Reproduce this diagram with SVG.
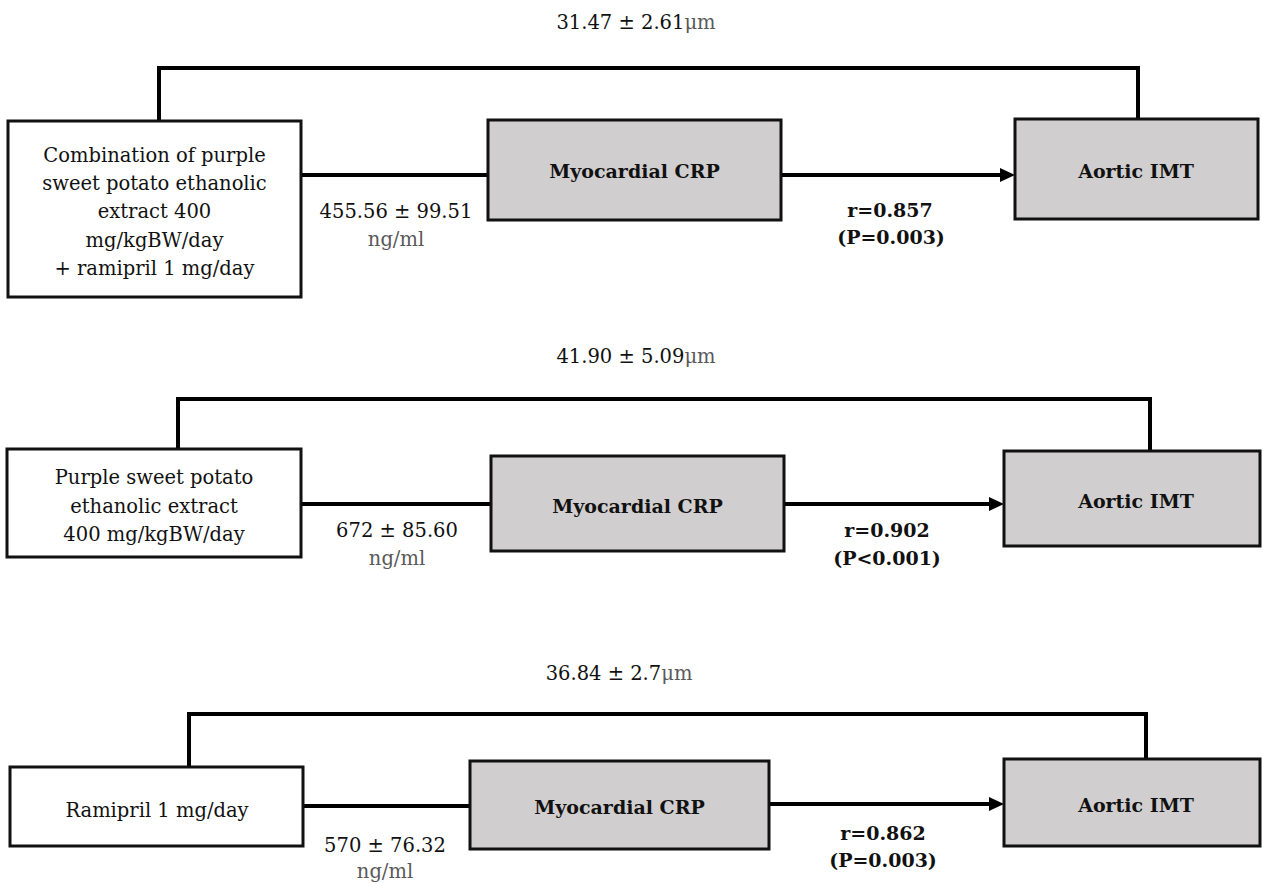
<svg xmlns="http://www.w3.org/2000/svg" width="1262" height="883" viewBox="0 0 1262 883">
<style>
  .box { fill: #ffffff; stroke: #111111; stroke-width: 3; }
  .gbox { fill: #d0cece; stroke: #111111; stroke-width: 3; }
  .conn { fill: none; stroke: #000000; stroke-width: 4; }
  text { font-family: "DejaVu Serif", "Liberation Serif", serif; font-size: 19.5px; fill: #111111; text-anchor: middle; }
  .b { font-weight: bold; font-size: 19px; }
  .g { fill: #595959; }
</style>
<defs>
  <marker id="arrow" markerUnits="userSpaceOnUse" markerWidth="16" markerHeight="16" refX="0" refY="7" orient="auto">
    <path d="M0,0 L15,7 L0,14 Z" fill="#000000"/>
  </marker>
</defs>

<g id="connectors">
  <!-- top block -->
  <polyline class="conn" points="159,121 159,68 1138,68 1138,119"/>
  <line class="conn" x1="301" y1="175" x2="488" y2="175"/>
  <line class="conn" x1="781" y1="175" x2="1000" y2="175" marker-end="url(#arrow)"/>
  <!-- middle block -->
  <polyline class="conn" points="178,449 178,399 1150,399 1150,451"/>
  <line class="conn" x1="301" y1="504" x2="491" y2="504"/>
  <line class="conn" x1="784" y1="504" x2="989" y2="504" marker-end="url(#arrow)"/>
  <!-- bottom block -->
  <polyline class="conn" points="189,767 189,714 1146,714 1146,759"/>
  <line class="conn" x1="303" y1="806" x2="470" y2="806"/>
  <line class="conn" x1="769" y1="804" x2="989" y2="804" marker-end="url(#arrow)"/>
</g>

<g id="labels">
  <text x="636" y="29">31.47 ± 2.61<tspan class="g">μm</tspan></text>
  <text x="396" y="218">455.56 ± 99.51</text>
  <text x="396" y="246" class="g">ng/ml</text>
  <text x="890" y="217" class="b">r=0.857</text>
  <text x="891" y="244" class="b">(P=0.003)</text>

  <text x="636" y="363">41.90 ± 5.09<tspan class="g">μm</tspan></text>
  <text x="397" y="537">672 ± 85.60</text>
  <text x="397" y="565" class="g">ng/ml</text>
  <text x="887" y="537" class="b">r=0.902</text>
  <text x="887" y="565" class="b">(P&lt;0.001)</text>

  <text x="619" y="680">36.84 ± 2.7<tspan class="g">μm</tspan></text>
  <text x="385" y="852">570 ± 76.32</text>
  <text x="385" y="878" class="g">ng/ml</text>
  <text x="883" y="840" class="b">r=0.862</text>
  <text x="883" y="867" class="b">(P=0.003)</text>
</g>

<g id="node-combination">
  <rect class="box" x="8" y="121" width="293" height="176"/>
  <text x="154.5" y="162">Combination of purple</text>
  <text x="154.5" y="190">sweet potato ethanolic</text>
  <text x="154.5" y="218">extract 400</text>
  <text x="154.5" y="247">mg/kgBW/day</text>
  <text x="154.5" y="275">+ ramipril 1 mg/day</text>
</g>
<g id="node-crp-1">
  <rect class="gbox" x="488" y="120" width="293" height="100"/>
  <text class="b" x="634.5" y="178">Myocardial CRP</text>
</g>
<g id="node-imt-1">
  <rect class="gbox" x="1015" y="119" width="243" height="100"/>
  <text class="b" x="1136" y="178">Aortic IMT</text>
</g>

<g id="node-pspe">
  <rect class="box" x="7" y="449" width="294" height="108"/>
  <text x="154" y="484">Purple sweet potato</text>
  <text x="154" y="513">ethanolic extract</text>
  <text x="154" y="541">400 mg/kgBW/day</text>
</g>
<g id="node-crp-2">
  <rect class="gbox" x="491" y="456" width="293" height="95"/>
  <text class="b" x="637.5" y="513">Myocardial CRP</text>
</g>
<g id="node-imt-2">
  <rect class="gbox" x="1004" y="451" width="256" height="95"/>
  <text class="b" x="1136" y="508">Aortic IMT</text>
</g>

<g id="node-ramipril">
  <rect class="box" x="10" y="767" width="293" height="79"/>
  <text x="157" y="817">Ramipril 1 mg/day</text>
</g>
<g id="node-crp-3">
  <rect class="gbox" x="470" y="761" width="299" height="88"/>
  <text class="b" x="619.5" y="814">Myocardial CRP</text>
</g>
<g id="node-imt-3">
  <rect class="gbox" x="1004" y="759" width="256" height="87"/>
  <text class="b" x="1136" y="812">Aortic IMT</text>
</g>
</svg>
